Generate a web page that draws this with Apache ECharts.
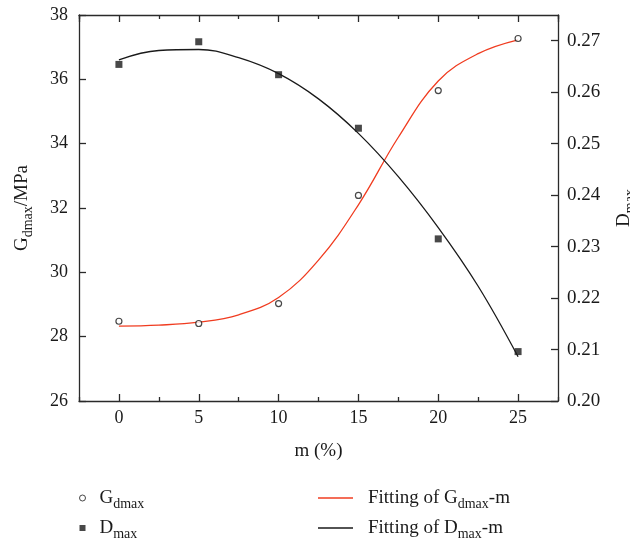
<!DOCTYPE html>
<html>
<head>
<meta charset="utf-8">
<script src="https://cdn.jsdelivr.net/npm/echarts@6/dist/echarts.min.js"></script>
<style>
  html, body { margin: 0; padding: 0; background: #fff; }
  #chart { width: 630px; height: 546px; }
</style>
</head>
<body>
<div id="chart"></div>
<script>
// Measured points: shear modulus and damping ratio versus content m (%)
const mValues = [0, 5, 10, 15, 20, 25];
const gdmaxValues = [28.48, 28.41, 29.03, 32.39, 35.65, 37.27];
const dmaxValues = [0.2654, 0.2698, 0.2634, 0.2530, 0.2315, 0.2096];

// Fitted curves sampled along m
const fitM = [0, 2.5, 5, 7.5, 10, 12.5, 15, 17.5, 20, 22.5, 25];
const fitGdmax = [28.33, 28.36, 28.45, 28.68, 29.22, 30.38, 32.10, 34.20, 35.95, 36.80, 37.23];
const fitDmax = [0.2663, 0.2681, 0.2683, 0.2667, 0.2636, 0.2587, 0.2520, 0.2436, 0.2337, 0.2223, 0.2086];

// Axis ranges and tick steps
const xRange = [-2.5, 27.5];
const gRange = [26, 38];
const gStep = 2;
const dRange = [0.20, 0.275];
const dStep = 0.01;

const FONT = '"Liberation Serif", "DejaVu Serif", serif';
const INK = '#1a1a1a';
const RED = '#f03c20';
const axisLineStyle = { color: '#2a2a2a', width: 1.3 };

const pairs = (xs, ys) => xs.map((x, i) => [x, ys[i]]);

// Main text plus a lowered, smaller subscript
const rich = {
  n: { fontFamily: FONT, fontSize: 19, color: INK, lineHeight: 24 },
  s: { fontFamily: FONT, fontSize: 14, color: INK, lineHeight: 14, padding: [12, 0, 0, 0] }
};

const legendText = {
  'Gdmax': '{n|G}{s|dmax}',
  'Dmax': '{n|D}{s|max}',
  'FitG': '{n|Fitting of G}{s|dmax}{n|-m}',
  'FitD': '{n|Fitting of D}{s|max}{n|-m}'
};

function xAxisBase(position, major, showLine) {
  const ax = {
    type: 'value',
    position: position,
    min: xRange[0],
    max: xRange[1],
    axisLine: { show: showLine, onZero: false, lineStyle: axisLineStyle },
    axisTick: { show: true, inside: true, length: major ? 7 : 4, lineStyle: axisLineStyle },
    axisLabel: { show: false },
    splitLine: { show: false }
  };
  if (major) {
    ax.splitNumber = 6;
  } else {
    ax.interval = 5;
  }
  return ax;
}

const xMain = xAxisBase('bottom', true, true);
xMain.axisLabel = {
  show: true,
  showMinLabel: false,
  showMaxLabel: false,
  fontFamily: FONT,
  fontSize: 18,
  color: INK,
  margin: 8,
  formatter: v => (Math.abs(v % 5) < 1e-9 ? String(v) : '')
};
xMain.name = 'm (%)';
xMain.nameLocation = 'middle';
xMain.nameGap = 41;
xMain.nameTextStyle = { fontFamily: FONT, fontSize: 19, color: INK };

const option = {
  animation: false,
  backgroundColor: '#fff',
  grid: { left: 79, right: 72, top: 15, bottom: 145, containLabel: false, outerBoundsMode: 'none' },
  xAxis: [
    xMain,
    xAxisBase('bottom', false, false),
    xAxisBase('top', true, true),
    xAxisBase('top', false, false)
  ],
  yAxis: [
    {
      type: 'value',
      position: 'left',
      min: gRange[0],
      max: gRange[1],
      interval: gStep,
      axisLine: { show: true, onZero: false, lineStyle: axisLineStyle },
      axisTick: { show: true, inside: true, length: 7, lineStyle: axisLineStyle },
      axisLabel: { fontFamily: FONT, fontSize: 18, color: INK, margin: 11 },
      splitLine: { show: false },
      name: '{n|G}{s|dmax}{n|/MPa}',
      nameLocation: 'middle',
      nameRotate: 90,
      nameGap: 45,
      nameTextStyle: { rich: rich }
    },
    {
      type: 'value',
      position: 'right',
      min: dRange[0],
      max: dRange[1],
      interval: dStep,
      axisLine: { show: true, onZero: false, lineStyle: axisLineStyle },
      axisTick: { show: true, inside: true, length: 7, lineStyle: axisLineStyle },
      axisLabel: {
        fontFamily: FONT, fontSize: 19, color: INK, margin: 9,
        showMaxLabel: false,
        formatter: v => v.toFixed(2)
      },
      splitLine: { show: false },
      name: '{n|D}{s|max}',
      nameLocation: 'middle',
      nameRotate: 90,
      nameGap: 43,
      nameTextStyle: { rich: rich }
    }
  ],
  legend: [
    {
      data: [
        { name: 'Gdmax', icon: 'circle', itemStyle: { color: '#fff', borderColor: INK, borderWidth: 1 } },
        { name: 'Dmax', icon: 'rect', itemStyle: { color: INK } }
      ],
      orient: 'vertical',
      left: 79,
      top: 485,
      padding: 0,
      itemWidth: 6,
      itemHeight: 6,
      itemGap: 4,
      formatter: name => legendText[name],
      textStyle: { rich: rich, padding: [0, 0, 0, 9] }
    },
    {
      data: [
        { name: 'FitG', icon: 'rect', itemStyle: { color: RED } },
        { name: 'FitD', icon: 'rect', itemStyle: { color: INK } }
      ],
      orient: 'vertical',
      left: 318,
      top: 485,
      padding: 0,
      itemWidth: 35,
      itemHeight: 1.5,
      itemGap: 4,
      formatter: name => legendText[name],
      textStyle: { rich: rich, padding: [0, 0, 0, 10] }
    }
  ],
  series: [
    {
      name: 'FitG',
      type: 'line',
      xAxisIndex: 0,
      yAxisIndex: 0,
      data: pairs(fitM, fitGdmax),
      smooth: 0.4,
      symbol: 'none',
      lineStyle: { color: RED, width: 1.3 },
      itemStyle: { color: RED },
      z: 2
    },
    {
      name: 'FitD',
      type: 'line',
      xAxisIndex: 0,
      yAxisIndex: 1,
      data: pairs(fitM, fitDmax),
      smooth: 0.4,
      symbol: 'none',
      lineStyle: { color: INK, width: 1.3 },
      itemStyle: { color: INK },
      z: 2
    },
    {
      name: 'Gdmax',
      type: 'scatter',
      xAxisIndex: 0,
      yAxisIndex: 0,
      data: pairs(mValues, gdmaxValues),
      symbol: 'circle',
      symbolSize: 6,
      itemStyle: { color: '#fff', borderColor: INK, borderWidth: 1.2 },
      z: 5
    },
    {
      name: 'Dmax',
      type: 'scatter',
      xAxisIndex: 0,
      yAxisIndex: 1,
      data: pairs(mValues, dmaxValues),
      symbol: 'rect',
      symbolSize: 7,
      itemStyle: { color: INK },
      z: 5
    }
  ]
};

const chart = echarts.init(document.getElementById('chart'), null, { renderer: 'canvas' });
chart.setOption(option);
</script>
</body>
</html>
